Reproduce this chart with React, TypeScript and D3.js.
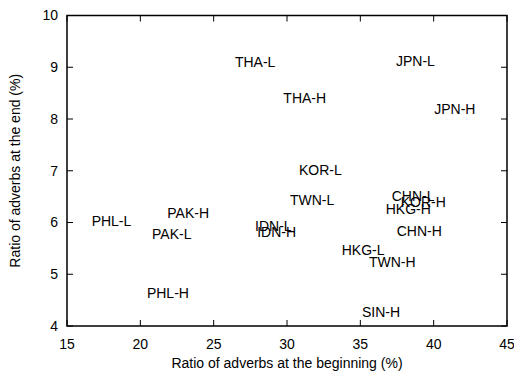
import * as React from "react";
import { scaleLinear } from "d3";

const labels = [
  "THA-L", "JPN-L", "THA-H", "JPN-H", "KOR-L", "TWN-L", "CHN-L", "KOR-H", "HKG-H",
  "IDN-L", "IDN-H", "CHN-H", "HKG-L", "TWN-H", "SIN-H", "PHL-L", "PAK-H", "PAK-L", "PHL-H",
];
const beginning = [
  26.45, 37.43, 29.75, 40.04, 30.82, 30.2, 37.14, 37.75, 36.73,
  27.82, 27.97, 37.48, 33.73, 35.59, 35.11, 16.68, 21.84, 20.8, 20.45,
];
const ending = [
  9.09, 9.12, 8.41, 8.2, 7.01, 6.43, 6.51, 6.4, 6.25,
  5.93, 5.81, 5.84, 5.47, 5.24, 4.26, 6.03, 6.18, 5.78, 4.64,
];
const xTicks = [15, 20, 25, 30, 35, 40, 45];
const yTicks = [4, 5, 6, 7, 8, 9, 10];

const FONT = "'Liberation Sans', Arial, sans-serif";

export default function App() {
  const width = 514;
  const height = 372;
  const margin = { top: 15.5, right: 7, bottom: 46, left: 67 };
  const innerW = width - margin.left - margin.right;
  const innerH = height - margin.top - margin.bottom;

  const x = scaleLinear().domain([15, 45]).range([0, innerW]);
  const y = scaleLinear().domain([4, 10]).range([innerH, 0]);
  const tick = 6;

  return (
    <svg
      width={width}
      height={height}
      style={{ position: "absolute", left: 0, top: 0, background: "#fff" }}
      fontFamily={FONT}
    >
      <g transform={`translate(${margin.left},${margin.top})`}>
        {xTicks.map((t) => (
          <g key={`x-${t}`}>
            <line x1={x(t)} x2={x(t)} y1={innerH} y2={innerH - tick} stroke="#000" />
            <line x1={x(t)} x2={x(t)} y1={0} y2={tick} stroke="#000" />
            <text x={x(t)} y={innerH + 18} dy="0.35em" textAnchor="middle" fontSize={14}>
              {t}
            </text>
          </g>
        ))}
        {yTicks.map((t) => (
          <g key={`y-${t}`}>
            <line x1={0} x2={tick} y1={y(t)} y2={y(t)} stroke="#000" />
            <line x1={innerW} x2={innerW - tick} y1={y(t)} y2={y(t)} stroke="#000" />
            <text x={-9} y={y(t)} dy="0.35em" textAnchor="end" fontSize={14}>
              {t}
            </text>
          </g>
        ))}
        <rect x={0} y={0} width={innerW} height={innerH} fill="none" stroke="#000" strokeWidth={1.5} />
        {labels.map((name, i) => (
          <text
            key={name}
            x={x(beginning[i])}
            y={y(ending[i])}
            dy="0.35em"
            fontSize={14}
            fill="#000"
          >
            {name}
          </text>
        ))}
      </g>
      <text x={margin.left + innerW / 2} y={363} dy="0.35em" textAnchor="middle" fontSize={14}>
        Ratio of adverbs at the beginning (%)
      </text>
      <text
        transform={`translate(15,${margin.top + innerH / 2}) rotate(-90)`}
        dy="0.35em"
        textAnchor="middle"
        fontSize={14}
      >
        Ratio of adverbs at the end (%)
      </text>
    </svg>
  );
}
